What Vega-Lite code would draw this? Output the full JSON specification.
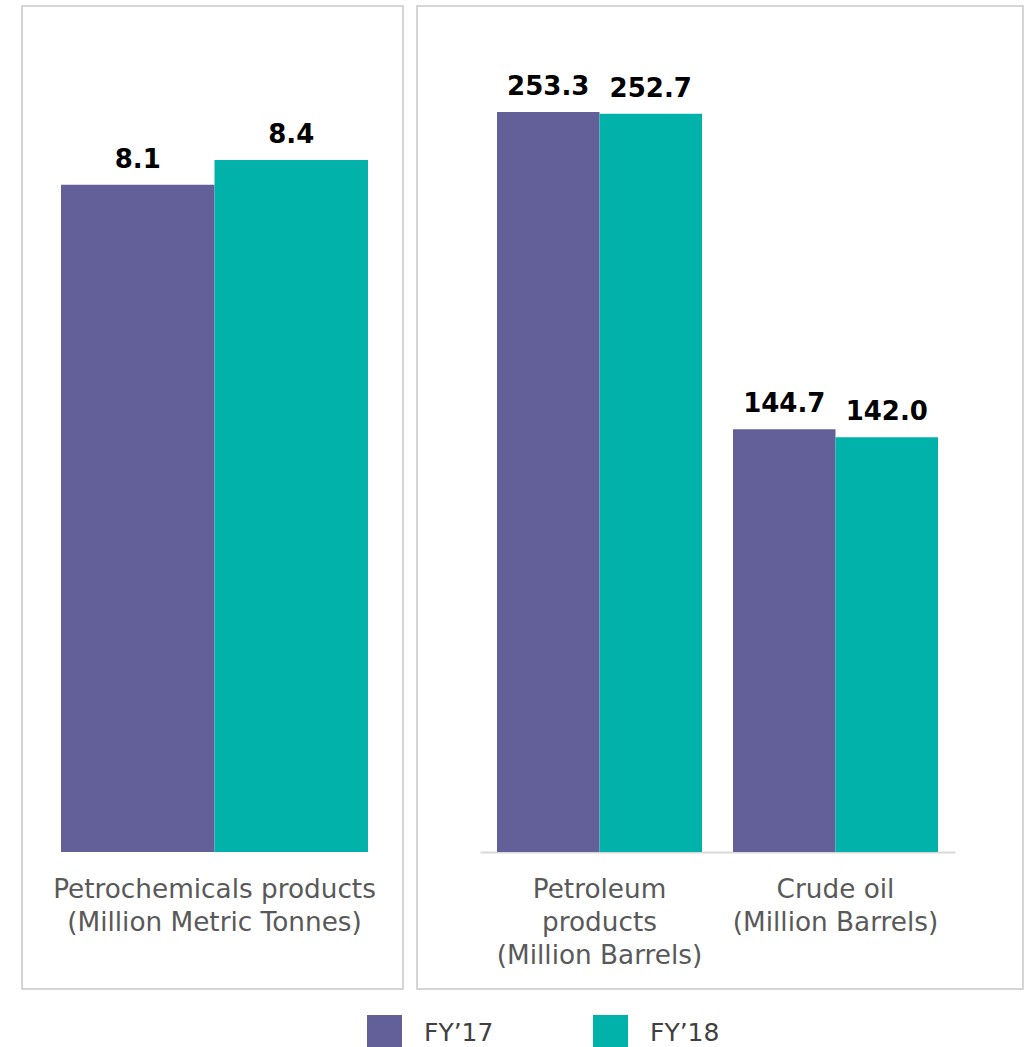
{
  "$schema": "https://vega.github.io/schema/vega-lite/v6.json",
  "padding": {"left": 21, "top": 5, "right": 5, "bottom": 0},
  "background": "white",
  "datasets": {
    "left": [
      {"category": "Petrochemicals products|(Million Metric Tonnes)", "year": "FY’17", "value": 8.1},
      {"category": "Petrochemicals products|(Million Metric Tonnes)", "year": "FY’18", "value": 8.4}
    ],
    "right": [
      {"category": "Petroleum|products|(Million Barrels)", "year": "FY’17", "value": 253.3},
      {"category": "Petroleum|products|(Million Barrels)", "year": "FY’18", "value": 252.7},
      {"category": "Crude oil|(Million Barrels)", "year": "FY’17", "value": 144.7},
      {"category": "Crude oil|(Million Barrels)", "year": "FY’18", "value": 142.0}
    ]
  },
  "spacing": 12,
  "hconcat": [
    {
      "width": 381,
      "height": 983,
      "data": {"name": "left"},
      "encoding": {
        "x": {
          "field": "category", "type": "nominal", "sort": null,
          "scale": {"range": [39, 346], "paddingInner": 0, "paddingOuter": 0},
          "axis": {"title": null, "ticks": false, "grid": false, "domain": false, "labelAngle": 0, "labelFontSize": 26.3, "labelColor": "#595959", "labelPadding": 24, "labelLineHeight": 33, "labelLimit": 0, "labelExpr": "split(datum.label, '|')", "offset": -137}
        },
        "xOffset": {"field": "year", "type": "nominal", "sort": ["FY’17", "FY’18"]},
        "y": {"field": "value", "type": "quantitative", "scale": {"domain": [0, 10.27], "range": [846, 0], "nice": false, "zero": true}, "axis": null}
      },
      "layer": [
        {
          "mark": {"type": "bar"},
          "encoding": {
            "color": {"field": "year", "type": "nominal", "scale": {"domain": ["FY’17", "FY’18"], "range": ["#635F98", "#00B2A9"]},
              "legend": {"title": null, "orient": "none", "legendX": 345, "legendY": 1009, "direction": "horizontal", "symbolType": "square", "symbolSize": 1225, "symbolStrokeWidth": 0, "labelFontSize": 25, "labelColor": "#404040", "labelOffset": 22, "columnPadding": 99, "padding": 0}}
          }
        },
        {
          "mark": {"type": "text", "fontWeight": "bold", "fontSize": 26, "color": "#000000", "baseline": "alphabetic", "align": "center", "dy": -17},
          "encoding": {"text": {"field": "value", "type": "quantitative", "format": ".1f"}}
        }
      ]
    },
    {
      "width": 606,
      "height": 983,
      "data": {"name": "right"},
      "encoding": {
        "x": {
          "field": "category", "type": "nominal", "sort": null,
          "scale": {"range": [63, 538], "paddingInner": 0.1314, "paddingOuter": 0.072},
          "axis": {"title": null, "ticks": false, "grid": false, "domain": true, "domainColor": "#d9d9d9", "domainWidth": 2, "labelAngle": 0, "labelFontSize": 26.3, "labelColor": "#595959", "labelPadding": 24, "labelLineHeight": 33, "labelLimit": 0, "labelExpr": "split(datum.label, '|')", "offset": -137}
        },
        "xOffset": {"field": "year", "type": "nominal", "sort": ["FY’17", "FY’18"]},
        "y": {"field": "value", "type": "quantitative", "scale": {"domain": [0, 289.6], "range": [846, 0], "nice": false, "zero": true}, "axis": null}
      },
      "layer": [
        {
          "mark": {"type": "bar"},
          "encoding": {
            "color": {"field": "year", "type": "nominal", "scale": {"domain": ["FY’17", "FY’18"], "range": ["#635F98", "#00B2A9"]},
              "legend": {"title": null, "orient": "none", "legendX": 345, "legendY": 1009, "direction": "horizontal", "symbolType": "square", "symbolSize": 1225, "symbolStrokeWidth": 0, "labelFontSize": 25, "labelColor": "#404040", "labelOffset": 22, "columnPadding": 99, "padding": 0}}
          }
        },
        {
          "mark": {"type": "text", "fontWeight": "bold", "fontSize": 26, "color": "#000000", "baseline": "alphabetic", "align": "center", "dy": -17},
          "encoding": {"text": {"field": "value", "type": "quantitative", "format": ".1f"}}
        }
      ]
    }
  ],
  "resolve": {"scale": {"color": "shared", "xOffset": "independent", "x": "independent", "y": "independent"}, "legend": {"color": "shared"}},
  "config": {
    "font": "DejaVu Sans",
    "view": {"stroke": "#c8c8c8", "strokeWidth": 1.5},
    "axis": {"labelFont": "DejaVu Sans"},
    "legend": {"labelFont": "DejaVu Sans"},
    "text": {"font": "DejaVu Sans"}
  }
}
